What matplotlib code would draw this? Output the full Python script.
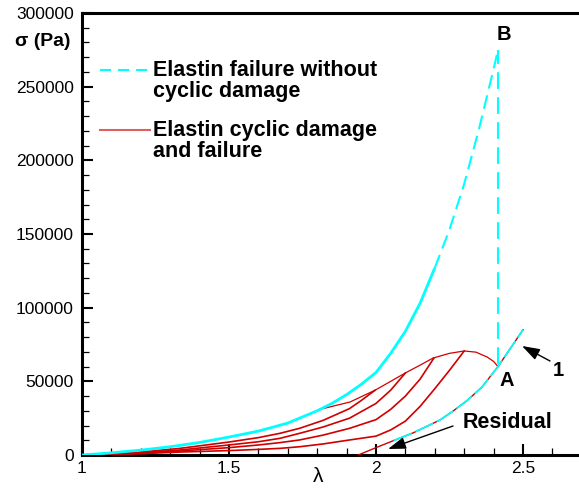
import matplotlib
matplotlib.use("Agg")
import matplotlib.pyplot as plt
from matplotlib.patches import FancyArrowPatch
from matplotlib.ticker import MultipleLocator, FixedLocator, FixedFormatter

plt.rcParams['font.family'] = ['Liberation Sans', 'DejaVu Sans']
plt.rcParams['lines.scale_dashes'] = False

# Virgin loading curve (no cyclic damage) up to failure at B
lam_virgin = [1.00, 1.05, 1.10, 1.20, 1.30, 1.40, 1.50, 1.60, 1.70, 1.80, 1.85, 1.90, 1.95,
              2.00, 2.05, 2.10, 2.15, 2.20, 2.25, 2.30, 2.35, 2.40, 2.415]
sig_virgin = [0, 700, 1500, 3300, 5600, 8500, 12200, 16200, 21700, 30000, 35000, 41000, 48000,
              56000, 69000, 84000, 103000, 127000, 153000, 184000, 221000, 262000, 275000]
split_idx = 17  # solid below, dashed above

# Sudden failure drop B -> A
lam_drop = [2.415, 2.415]
sig_drop = [275000, 60000]

# Damage envelope of the cyclic loading
lam_env = [1.81, 1.912, 1.997, 2.05, 2.10, 2.15, 2.194, 2.25, 2.30, 2.34, 2.378, 2.40, 2.415]
sig_env = [31000, 36000, 44000, 50000, 55700, 61000, 65800, 69000, 70600, 69800, 66500, 63500, 60000]

# Loading cycles (common stretch grid up to the kink, then individual branches)
lam_base = [1.0, 1.1, 1.2, 1.333, 1.5, 1.6, 1.673, 1.74, 1.82, 1.91]
cycle1_sig = [0, 700, 2000, 4500, 8800, 11800, 14700, 18100, 23500, 31500]
cycle1_lam_tail = [1.95, 1.997]
cycle1_sig_tail = [37000, 44000]
cycle2_sig = [0, 500, 1600, 3400, 6800, 9000, 11300, 14700, 19000, 25000]
cycle2_lam_tail = [2.0, 2.05, 2.10]
cycle2_sig_tail = [35000, 44000, 55700]
cycle3_sig = [0, 400, 1200, 2700, 5000, 6800, 8400, 10200, 13500, 18100]
cycle3_lam_tail = [2.0, 2.05, 2.10, 2.15, 2.197]
cycle3_sig_tail = [24000, 31000, 40000, 51500, 65800]
cycle4_sig = [0, 300, 900, 2000, 3000, 3800, 4500, 5600, 7500, 10200]
cycle4_lam_tail = [2.0, 2.05, 2.10, 2.15, 2.20, 2.25, 2.30]
cycle4_sig_tail = [12800, 17000, 23000, 33000, 45000, 57500, 70600]

# Residual (collagen) response after elastin failure
lam_res = [1.94, 2.0, 2.06, 2.126, 2.17, 2.218, 2.26, 2.31, 2.36, 2.415, 2.466, 2.50]
sig_res = [0, 5000, 9800, 15000, 19200, 23800, 29500, 37000, 46000, 60000, 75000, 85000]

# Axis ticks
x_ticks = [1.0, 1.5, 2.0, 2.5]
x_tick_labels = ['1', '1.5', '2', '2.5']
y_ticks = [0, 50000, 100000, 150000, 200000, 250000, 300000]
y_tick_labels = ['0', '50000', '100000', '150000', '200000', '250000', '300000']

RED = '#D00000'
CYAN = '#00FFFF'

W, H = 579, 492
fig = plt.figure(figsize=(W / 100, H / 100), dpi=100)
x0, y0, y1 = 82, 455, 13
xmin, xmax = 1.0, 2.7
px_per_unit = 294.0
ax = fig.add_axes([x0 / W, (H - y0) / H, (xmax - xmin) * px_per_unit / W, (y0 - y1) / H])
ax.set_xlim(xmin, xmax)
ax.set_ylim(0, 300000)

# cyclic loading curves
cycles = [(cycle1_sig, cycle1_lam_tail, cycle1_sig_tail),
          (cycle2_sig, cycle2_lam_tail, cycle2_sig_tail),
          (cycle3_sig, cycle3_lam_tail, cycle3_sig_tail),
          (cycle4_sig, cycle4_lam_tail, cycle4_sig_tail)]
for sig, lt, st in cycles:
    ax.plot(lam_base + lt, sig + st, color=RED, lw=1.2, zorder=3)
ax.plot(lam_env, sig_env, color=RED, lw=0.9, zorder=3)
ax.plot(lam_res, sig_res, color=RED, lw=1.0, zorder=3)

# virgin curve and failure
ax.plot(lam_virgin[:split_idx + 1], sig_virgin[:split_idx + 1], color=CYAN, lw=2.0, zorder=4,
        solid_capstyle='butt')
ax.plot(lam_virgin[split_idx:], sig_virgin[split_idx:], color=CYAN, lw=1.5, zorder=4,
        linestyle=(0, (10, 5)))
ax.plot(lam_drop, sig_drop, color=CYAN, lw=1.5, zorder=4, linestyle=(2, (12, 6)))
ax.plot(lam_res[2:], sig_res[2:], color=CYAN, lw=1.3, zorder=4, linestyle=(0, (14, 3)))

# spines and ticks
ax.spines['right'].set_visible(False)
for s in ('left', 'bottom', 'top'):
    ax.spines[s].set_linewidth(2.2)
ax.xaxis.set_major_locator(FixedLocator(x_ticks))
ax.xaxis.set_major_formatter(FixedFormatter(x_tick_labels))
ax.xaxis.set_minor_locator(MultipleLocator(0.1))
ax.yaxis.set_major_locator(FixedLocator(y_ticks))
ax.yaxis.set_major_formatter(FixedFormatter(y_tick_labels))
ax.yaxis.set_minor_locator(MultipleLocator(10000))
ax.tick_params(which='major', direction='in', length=8, width=1.5, labelsize=12.5, pad=4,
               top=False, right=False)
ax.tick_params(which='minor', direction='in', length=5, width=0.9, top=False, right=False)
ax.tick_params(axis='y', which='major', pad=6)

# axis titles
fig.text(15 / W, 1 - 42 / H, 'σ (Pa)', fontsize=14, fontweight='bold', ha='left', va='center')
fig.text(318 / W, 1 - 477 / H, 'λ', fontsize=15, ha='center', va='center')

# legend entries
fig.add_artist(plt.Line2D([100 / W, 150 / W], [1 - 70 / H, 1 - 70 / H], color=CYAN, lw=1.5,
                          linestyle=(0, (8, 5))))
fig.text(153 / W, 1 - 81 / H, 'Elastin failure without\ncyclic damage', fontsize=15.5,
         fontweight='bold', ha='left', va='center', linespacing=1.0)
fig.add_artist(plt.Line2D([100 / W, 150 / W], [1 - 130 / H, 1 - 130 / H], color='#E06060', lw=1.5))
fig.text(153 / W, 1 - 141 / H, 'Elastin cyclic damage\nand failure', fontsize=15.5,
         fontweight='bold', ha='left', va='center', linespacing=1.0)

# point labels and annotations
fig.text(504 / W, 1 - 34 / H, 'B', fontsize=14.5, fontweight='bold', ha='center', va='center')
fig.text(507 / W, 1 - 380 / H, 'A', fontsize=14.5, fontweight='bold', ha='center', va='center')
fig.text(558 / W, 1 - 370 / H, '1', fontsize=14.5, fontweight='bold', ha='center', va='center')
fig.text(508 / W, 1 - 422 / H, 'Residual', fontsize=15.5, fontweight='bold', ha='center', va='center')

arrowprops = dict(arrowstyle='-|>,head_length=0.9,head_width=0.3', color='black', lw=1.0,
                  shrinkA=0, shrinkB=0, mutation_scale=12, transform=fig.transFigure)
fig.add_artist(FancyArrowPatch((453 / W, 1 - 426 / H), (388 / W, 1 - 449 / H), **arrowprops))
fig.add_artist(FancyArrowPatch((550 / W, 1 - 361 / H), (522 / W, 1 - 346 / H), **arrowprops))

fig.savefig('out.png', dpi=100)
